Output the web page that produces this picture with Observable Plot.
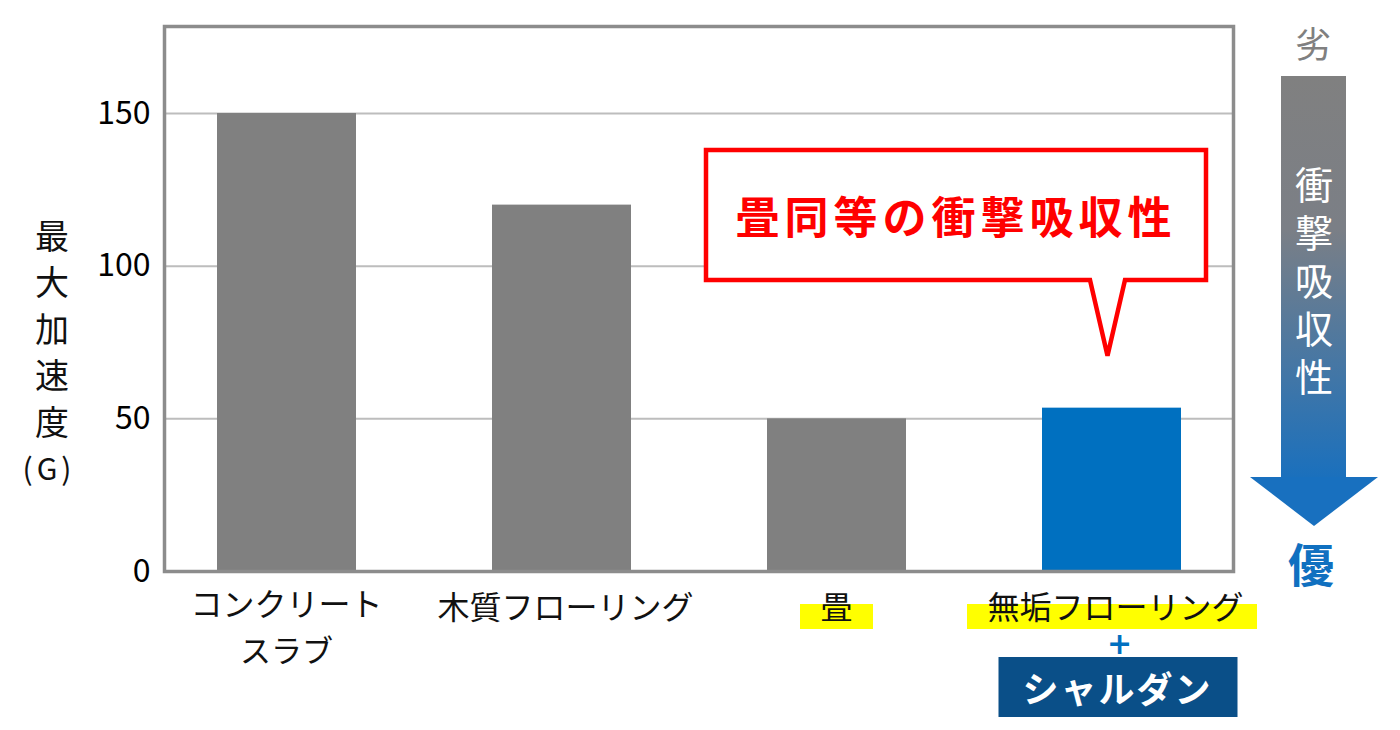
<!DOCTYPE html>
<html><head><meta charset="utf-8">
<script src="https://cdn.jsdelivr.net/npm/d3@7"></script>
<script src="https://cdn.jsdelivr.net/npm/@observablehq/plot@0.6"></script>
<style>
html,body{margin:0;padding:0;background:#fff;}
svg{font-family:"Noto Sans CJK JP","Noto Sans",sans-serif;}
</style></head>
<body><div id="chart"></div>
<script>
const categories = ["コンクリートスラブ","木質フローリング","畳","無垢フローリング+シャルダン"];
const values = [150, 120, 50, 53.5];
const tickLabels = ["コンクリート\nスラブ","木質フローリング","畳","無垢フローリング"];
const highlighted = ["畳","無垢フローリング+シャルダン"];
const featured = "無垢フローリング+シャルダン";
const yTicks = [0, 50, 100, 150];
const gridTicks = [50, 100, 150];
const yMax = 178.5;
const yLabel = ["最","大","加","速","度","(G)"];
const arrowText = "衝撃吸収性";
const calloutText = "畳同等の衝撃吸収性";
const productText = "シャルダン";

const data = categories.map((c,i)=>({category:c, value:values[i], label:tickLabels[i]}));
const GRAY = "#808080", BLUE = "#0070c0";

const plot = Plot.plot({
  width: 1400, height: 730,
  marginLeft: 164, marginRight: 167, marginTop: 26, marginBottom: 159,
  style: {fontFamily: '"Noto Sans CJK JP", sans-serif', background: "#fff"},
  x: {domain: categories, paddingInner: 0.495, paddingOuter: 0.19, axis: null},
  y: {domain: [0, yMax], axis: null},
  marks: [
    Plot.gridY(gridTicks, {stroke: "#bdbdbd", strokeOpacity: 1, strokeWidth: 2}),
    Plot.barY(data, {x: "category", y: "value", fill: d => d.category === featured ? BLUE : GRAY}),
    Plot.axisY(yTicks, {tickSize: 0, tickPadding: 14, fontSize: 32, label: null, textStroke: "none"}),
    Plot.frame({stroke: "#8c8c8c", strokeWidth: 3.5})
  ]
});
document.getElementById("chart").appendChild(plot);

const svg = d3.select(plot);
const xs = plot.scale("x");
const bw = xs.bandwidth;
const cx = c => xs.apply(c) + bw/2;
const ys = plot.scale("y");
const bottom = ys.apply(0);
const fx = cx(featured);

// highlight boxes behind labels
const hl = svg.append("g");
const lab = svg.append("g").attr("font-size", 32).attr("fill", "#111").attr("text-anchor","middle");
data.forEach(d => {
  const lines = d.label.split("\n");
  const shift = (lines.length === 1 && d.label.length > 6) ? 4 : 0;
  lines.forEach((ln, j) => {
    const yy = lines.length > 1 ? bottom + 31 + j*46 : bottom + 34;
    lab.append("text").attr("x", cx(d.category) + shift).attr("y", yy)
      .attr("dominant-baseline","central").attr("font-size", j === 1 ? 31 : 32).text(ln);
  });
  if (highlighted.includes(d.category)) {
    const w = d.label.length > 1 ? 290 : 73;
    hl.append("rect").attr("x", cx(d.category) - w/2 + (d.label.length > 1 ? 0.5 : 0)).attr("y", bottom + 33)
      .attr("width", w).attr("height", 25).attr("fill", "#ffff00");
  }
});
// plus sign
svg.append("text").attr("x", fx + 8).attr("y", bottom + 72).attr("text-anchor","middle")
  .attr("dominant-baseline","central").attr("font-family", "DejaVu Sans").attr("font-size", 30)
  .attr("font-weight", "bold").attr("fill", BLUE).text("+");
// product box
svg.append("rect").attr("x", fx - 113).attr("y", bottom + 86).attr("width", 239).attr("height", 60)
  .attr("fill", "#0a4f88");
svg.append("text").attr("x", fx + 6).attr("y", bottom + 116).attr("text-anchor","middle")
  .attr("dominant-baseline","central").attr("font-size", 36).attr("font-weight","bold")
  .attr("fill", "#fff").attr("letter-spacing", 2).text(productText);

// y axis label (vertical)
const yl = svg.append("g").attr("fill","#111").attr("text-anchor","middle");
yLabel.forEach((ch, i) => {
  yl.append("text").attr("x", i === 5 ? 49 : 52).attr("y", 234 + i*46.5)
    .attr("dominant-baseline","central")
    .attr("font-size", i === 5 ? 30 : 34)
    .attr("letter-spacing", i === 5 ? 4 : 0)
    .text(ch);
});

// callout
const tipX = fx - 4, tipY = ys.apply(70.5);
svg.append("path")
  .attr("d", `M706,150 H1206 V280 H1125 L${tipX},${tipY} L1090,280 H706 Z`)
  .attr("fill", "#fff").attr("stroke", "#ff0000").attr("stroke-width", 4.5).attr("stroke-linejoin","miter");
svg.append("text").attr("x", 956).attr("y", 215).attr("text-anchor","middle")
  .attr("dominant-baseline","central").attr("font-size", 44).attr("font-weight","bold")
  .attr("letter-spacing", 5).attr("fill", "#ff0000").text(calloutText);

// right arrow
const defs = svg.append("defs");
const gr = defs.append("linearGradient").attr("id","arrowGrad").attr("x1",0).attr("y1",0).attr("x2",0).attr("y2",1);
gr.append("stop").attr("offset","0%").attr("stop-color","#808080");
gr.append("stop").attr("offset","38%").attr("stop-color","#7b7f86");
gr.append("stop").attr("offset","100%").attr("stop-color","#1a70bd");
svg.append("rect").attr("x", 1281).attr("y", 76).attr("width", 65).attr("height", 402).attr("fill","url(#arrowGrad)");
svg.append("path").attr("d","M1250,477 L1378,477 L1314,526 Z").attr("fill","#1870bf");
svg.append("text").attr("x", 1314).attr("y", 286)
  .attr("style", "writing-mode:vertical-rl;text-orientation:upright")
  .attr("text-anchor", "middle")
  .attr("font-size", 38).attr("letter-spacing", 10).attr("fill", "#fff").text(arrowText);
svg.append("text").attr("x", 1313).attr("y", 42).attr("text-anchor","middle").attr("dominant-baseline","central")
  .attr("font-size", 36).attr("fill", "#808080").text("劣");
svg.append("text").attr("x", 1311).attr("y", 562).attr("text-anchor","middle").attr("dominant-baseline","central")
  .attr("font-size", 46).attr("font-weight","bold").attr("fill", "#1070c0").text("優");
</script></body></html>
